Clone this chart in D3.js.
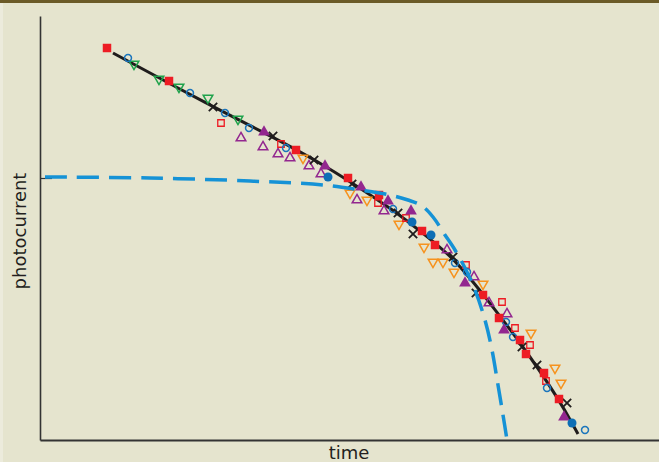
<!DOCTYPE html>
<html>
<head>
<meta charset="utf-8">
<script src="https://cdn.jsdelivr.net/npm/d3@7"></script>
<style>
  html, body { margin: 0; padding: 0; background: #e5e4ce; }
  svg { display: block; }
</style>
</head>
<body>
<script>
// values, arbitrary units: [time, photocurrent]
const redFilledSquares = [[67,392],[129,359],[256,290],[308,262],[339,245],[382,209],[395,195],[443,145],[459,122],[480,100],[486,86],[504,67],[519,41]];
const redOpenSquares = [[181,317],[241,296],[338,237],[366,222],[426,175],[462,138],[475,112],[490,95],[506,59]];
const blueOpenCircles = [[88,382],[150,347],[185,327],[209,312],[246,292],[353,231],[415,177],[427,168],[466,118],[473,103],[507,52],[545,10]];
const blueFilledCircles = [[288,263],[372,218],[391,205],[532,17]];
const greenDownTriangles = [[94,376],[119,361],[139,353],[168,342],[198,321]];
const orangeDownTriangles = [[263,282],[310,247],[327,240],[359,216],[384,193],[393,178],[403,178],[414,168],[443,156],[491,107],[515,72],[521,57]];
const purpleOpenTriangles = [[201,302],[223,293],[238,286],[250,282],[269,274],[281,266],[317,240],[344,229],[407,190],[434,163],[449,137],[467,126]];
const purpleFilledTriangles = [[224,308],[285,274],[321,253],[348,239],[371,229],[425,157],[464,110],[524,23]];
const blackCrosses = [[173,333],[233,304],[274,280],[312,256],[358,227],[373,206],[413,183],[436,147],[482,93],[497,75],[527,37]];

// fitted curve (solid black) and model curve (dashed blue)
const fitCurve = [[73,387],[173,333],[223,308],[257,290],[287,273],[320,252],[353,230],[380,209],[413,183],[443,146],[480,98],[519,41],[538,6]];
const modelCurve = [[5,263],[110,262],[210,259],[283,255],[320,250],[350,245],[368,240],[382,234],[393,223],[405,205],[415,190],[425,172],[435,150],[445,120],[452,90],[458,55],[463,25],[467,0]];

const yTickValues = [262];

let width = 659;
let height = 462;
let marginTop = 16;
let marginRight = 0;
let marginBottom = 22;
let marginLeft = 40;

let x = d3.scaleLinear()
    .domain([0, 619])
    .range([marginLeft, width - marginRight]);

let y = d3.scaleLinear()
    .domain([0, 424])
    .range([height - marginBottom, marginTop]);

let svg = d3.select("body").append("svg")
    .attr("width", width)
    .attr("height", height)
    .attr("viewBox", [0, 0, width, height]);

// background, lighter left strip and the dark band on top
svg.append("rect").attr("width", width).attr("height", height).attr("fill", "#e5e4ce");
svg.append("rect").attr("width", 3).attr("height", height).attr("fill", "#ecebdc");
svg.append("rect").attr("width", width).attr("height", 3).attr("fill", "#6b5a27");

// axes
svg.append("g")
    .attr("transform", `translate(0,${height - marginBottom})`)
    .call(d3.axisBottom(x).tickValues([]).tickSizeOuter(0))
    .call(g => g.select(".domain").attr("stroke", "#333").attr("stroke-width", 2));

svg.append("g")
    .attr("transform", `translate(${marginLeft},0)`)
    .call(d3.axisLeft(y).tickValues(yTickValues).tickSize(-12).tickSizeOuter(0).tickFormat(""))
    .call(g => g.select(".domain").attr("stroke", "#333").attr("stroke-width", 1.6))
    .call(g => g.selectAll(".tick line").attr("stroke", "#333").attr("stroke-width", 1.2));

// axis labels
svg.append("text")
    .attr("x", 349)
    .attr("y", 459)
    .attr("text-anchor", "middle")
    .attr("fill", "#231f20")
    .style("font-family", "'DejaVu Sans', sans-serif")
    .style("font-size", "18px")
    .text("time");

svg.append("text")
    .attr("transform", "rotate(-90)")
    .attr("x", -231)
    .attr("y", 26)
    .attr("text-anchor", "middle")
    .attr("fill", "#231f20")
    .style("font-family", "'DejaVu Sans', sans-serif")
    .style("font-size", "18px")
    .text("photocurrent");

// fitted line
let line = d3.line()
    .x(d => x(d[0]))
    .y(d => y(d[1]))
    .curve(d3.curveBasis);

svg.append("path")
    .datum(fitCurve)
    .attr("fill", "none")
    .attr("stroke", "#1f1c1c")
    .attr("stroke-width", 3)
    .attr("d", line);

// custom X marker
const symbolX = {
  draw(ctx, size) {
    const r = Math.sqrt(size) / 2;
    ctx.moveTo(-r, -r); ctx.lineTo(r, r);
    ctx.moveTo(-r, r); ctx.lineTo(r, -r);
  }
};

function drawMarks(data, type, size, fill, stroke, strokeWidth, rotate) {
  svg.append("g")
    .selectAll("path")
    .data(data)
    .join("path")
    .attr("transform", d => `translate(${x(d[0])},${y(d[1])})` + (rotate ? ` rotate(${rotate})` : ""))
    .attr("d", d3.symbol().type(type).size(size))
    .attr("fill", fill)
    .attr("stroke", stroke)
    .attr("stroke-width", strokeWidth);
}

drawMarks(greenDownTriangles, d3.symbolTriangle, 40, "none", "#1fa24b", 1.5, 180);
drawMarks(orangeDownTriangles, d3.symbolTriangle, 40, "none", "#f6921e", 1.5, 180);
drawMarks(purpleOpenTriangles, d3.symbolTriangle, 40, "none", "#93278f", 1.5, 0);
drawMarks(redOpenSquares, d3.symbolSquare, 42, "none", "#ed1c24", 1.3, 0);
drawMarks(blueOpenCircles, d3.symbolCircle, 38, "none", "#1b75bc", 1.5, 0);
drawMarks(blackCrosses, symbolX, 70, "none", "#1f1c1c", 1.8, 0);
drawMarks(purpleFilledTriangles, d3.symbolTriangle, 60, "#93278f", "none", 0, 0);
drawMarks(blueFilledCircles, d3.symbolCircle, 64, "#0d6eb5", "none", 0, 0);
drawMarks(redFilledSquares, d3.symbolSquare, 72, "#ed1c24", "none", 0, 0);

// model curve, dashed
svg.append("path")
    .datum(modelCurve)
    .attr("fill", "none")
    .attr("stroke", "#1592d6")
    .attr("stroke-width", 3.5)
    .attr("stroke-dasharray", "22 10")
    .attr("d", d3.line().x(d => x(d[0])).y(d => y(d[1])).curve(d3.curveCatmullRom));
</script>
</body>
</html>
